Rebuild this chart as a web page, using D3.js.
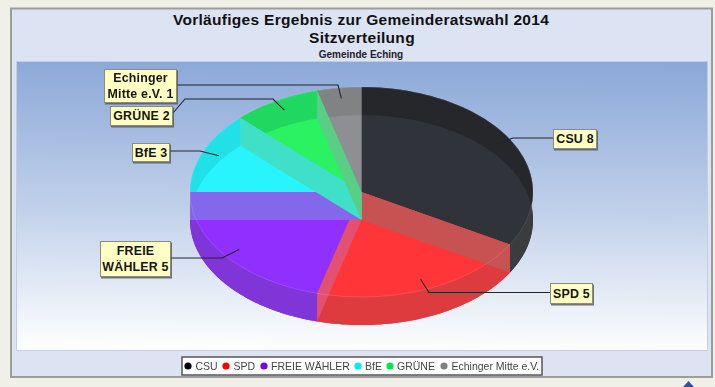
<!DOCTYPE html>
<html>
<head>
<meta charset="utf-8">
<script src="https://cdn.jsdelivr.net/npm/d3@7"></script>
<style>
  html, body { margin: 0; padding: 0; background: #f1f0e8; }
  svg { display: block; font-family: "Liberation Sans", Arial, sans-serif; filter: blur(0.45px); }
</style>
</head>
<body>
<div id="viz_container"></div>
<script>
// data
const parties = ["CSU", "SPD", "FREIE WÄHLER", "BfE", "GRÜNE", "Echinger Mitte e.V."];
const seats = [8, 5, 5, 3, 2, 1];

// colours per party
const legendColors = ["#000000", "#ff0000", "#7a00f0", "#00f0f0", "#00e850", "#808080"];
const backColors = ["#25272a", "#e03a3c", "#7f35d8", "#22e0e8", "#20d860", "#808284"];
const sideColors = ["#3a3c40", "#de3b3e", "#8035d8", "#22e0e8", "#20d860", "#808284"];
const topColors = ["#30333a", "#ff3538", "#9030ff", "#28f4fe", "#2bf260", "#8d8f92"];
// wall that closes each slice on its clockwise end
const wallColors = ["#c75252", "#e25072", "#8468ec", "#40e0c8", "#58cf84", "#8d8f92"];

// label boxes: [x, y, w, h], text lines
const labelBoxes = [[553, 129, 43, 19], [550, 283, 42, 20], [100, 241, 70, 35], [132, 143, 37, 18], [110, 106, 62, 19], [104, 69, 72, 33]];
const labelLines = [["CSU 8"], ["SPD 5"], ["FREIE", "WÄHLER 5"], ["BfE 3"], ["GRÜNE 2"], ["Echinger", "Mitte e.V. 1"]];

const width = 715, height = 387;
const svg = d3.select("#viz_container")
  .append("svg")
  .attr("width", width)
  .attr("height", height);

const defs = svg.append("defs");
const grad = defs.append("linearGradient")
  .attr("id", "plotBg")
  .attr("x1", 0.02).attr("y1", 0)
  .attr("x2", 0).attr("y2", 1);
grad.append("stop").attr("offset", 0).attr("stop-color", "#8ca9d8");
grad.append("stop").attr("offset", 0.5).attr("stop-color", "#c0d0ea");
grad.append("stop").attr("offset", 1).attr("stop-color", "#ffffff");

const shadow = defs.append("filter").attr("id", "boxShadow");
shadow.append("feDropShadow")
  .attr("dx", 1).attr("dy", 1.5).attr("stdDeviation", 0.6)
  .attr("flood-color", "#555").attr("flood-opacity", 0.8);

// panel and plot area
svg.append("rect")
  .attr("x", 11).attr("y", 8.5).attr("width", 701).attr("height", 368.5)
  .attr("fill", "#dce3f3").attr("stroke", "#9b9d9b").attr("stroke-width", 2);
svg.append("rect")
  .attr("x", 16.5).attr("y", 61.5).attr("width", 691).attr("height", 289)
  .attr("fill", "url(#plotBg)").attr("stroke", "#c4cde0");

// titles
svg.append("text").attr("x", 361).attr("y", 25).attr("text-anchor", "middle")
  .style("font-size", "15.5px").style("font-weight", "bold").style("letter-spacing", "0.3px")
  .attr("fill", "#111").text("Vorläufiges Ergebnis zur Gemeinderatswahl 2014");
svg.append("text").attr("x", 362).attr("y", 43).attr("text-anchor", "middle")
  .style("font-size", "15.5px").style("font-weight", "bold").style("letter-spacing", "0.3px")
  .attr("fill", "#111").text("Sitzverteilung");
svg.append("text").attr("x", 361).attr("y", 58).attr("text-anchor", "middle")
  .style("font-size", "10px").style("font-weight", "bold")
  .attr("fill", "#222").text("Gemeinde Eching");

// pie geometry, clockwise from 12 o'clock
const cx = 361.5, cy = 192, rx = 171.5, ry = 105, depth = 28;
const slices = d3.pie().sort(null)(seats);
const pt = (a, k, dy) => [cx + rx * k * Math.sin(a), cy + dy - ry * k * Math.cos(a)];
const line = d3.line();

const arcPoints = (d, dy) => d3.range(0, 61).map(i =>
  pt(d.startAngle + (d.endAngle - d.startAngle) * i / 60, 1, dy));
const sector = (d, dy) => line([pt(0, 0, dy), ...arcPoints(d, dy)]) + "Z";
const side = d => line([...arcPoints(d, 0), ...arcPoints(d, depth).reverse()]) + "Z";
const wall = a => line([pt(a, 0, 0), pt(a, 1, 0), pt(a, 1, depth), pt(a, 0, depth)]) + "Z";

defs.append("clipPath").attr("id", "bottomEllipse")
  .append("ellipse")
  .attr("cx", cx).attr("cy", cy + depth).attr("rx", rx).attr("ry", ry);

const pie = svg.append("g");
pie.append("g").selectAll("path").data(slices).join("path")
  .attr("d", d => sector(d, depth))
  .attr("fill", (d, i) => sideColors[i]);
pie.append("g").selectAll("path").data(slices).join("path")
  .attr("d", side)
  .attr("fill", (d, i) => sideColors[i]);
pie.append("g").selectAll("path").data(slices).join("path")
  .attr("d", d => sector(d, 0))
  .attr("fill", (d, i) => backColors[i]);
pie.append("g").attr("clip-path", "url(#bottomEllipse)")
  .selectAll("path").data(slices).join("path")
  .attr("d", d => sector(d, 0))
  .attr("fill", (d, i) => topColors[i]);
pie.append("g").selectAll("path").data(slices).join("path")
  .attr("d", d => wall(d.endAngle))
  .attr("fill", (d, i) => wallColors[i]);
// thin rim of the top ellipse
pie.append("ellipse")
  .attr("cx", cx).attr("cy", cy).attr("rx", rx).attr("ry", ry)
  .attr("fill", "none").attr("stroke", "#fff").attr("stroke-opacity", 0.13);

// leader lines, elbow then to box
const leaderEnds = [[553, 138], [550, 292.5], [170, 258], [169, 151], [173, 113], [176, 85]];
const leaderElbows = [[513, 138], [429, 292.5], [222, 258], [200, 151], [185, 99], [338, 85]];
const leaders = svg.append("g");
slices.forEach((d, i) => {
  const mid = (d.startAngle + d.endAngle) / 2;
  const pts = [leaderEnds[i], leaderElbows[i]];
  if (i === 4) pts.push([273, 99]);
  pts.push(pt(mid, 0.9, 0));
  leaders.append("path")
    .attr("d", line(pts))
    .attr("fill", "none")
    .attr("stroke", "#20242c")
    .attr("stroke-width", 1.1);
});

// label boxes
const labels = svg.append("g").selectAll("g").data(labelBoxes).join("g");
labels.append("rect")
  .attr("x", d => d[0] + 0.5).attr("y", d => d[1] + 0.5)
  .attr("width", d => d[2]).attr("height", d => d[3])
  .attr("fill", "#ffffc4").attr("stroke", "#8b8b80").attr("stroke-width", 1)
  .attr("filter", "url(#boxShadow)");
labels.each(function(d, i) {
  const n = labelLines[i].length;
  d3.select(this).selectAll("text").data(labelLines[i]).join("text")
    .attr("x", d[0] + d[2] / 2 + 0.5)
    .attr("y", (t, j) => d[1] + d[3] / 2 + 4.5 + (j - (n - 1) / 2) * 15.5)
    .attr("text-anchor", "middle")
    .style("font-size", "12.4px").style("font-weight", "bold").style("letter-spacing", "0.2px")
    .attr("fill", "#151510")
    .text(t => t);
});

// legend
svg.append("rect")
  .attr("x", 182).attr("y", 357).attr("width", 360).attr("height", 18)
  .attr("fill", "#fff").attr("stroke", "#555").attr("stroke-width", 1.5);
const legendDots = [188, 226, 264, 358, 390, 444];
const legendTexts = [195.5, 233.5, 271, 365, 397, 451.5];
const legend = svg.append("g").selectAll("g").data(parties).join("g");
legend.append("circle")
  .attr("cx", (d, i) => legendDots[i]).attr("cy", 366).attr("r", 3.6)
  .attr("fill", (d, i) => legendColors[i]);
legend.append("text")
  .attr("x", (d, i) => legendTexts[i]).attr("y", 370)
  .style("font-size", "10.5px")
  .attr("fill", "#444")
  .text(d => d);

// the small arrow cut off at the lower edge of the screenshot
svg.append("path")
  .attr("d", line([[683, 387], [688.5, 381], [694, 387]]) + "Z")
  .attr("fill", "#3a4f9a");
</script>
</body>
</html>
